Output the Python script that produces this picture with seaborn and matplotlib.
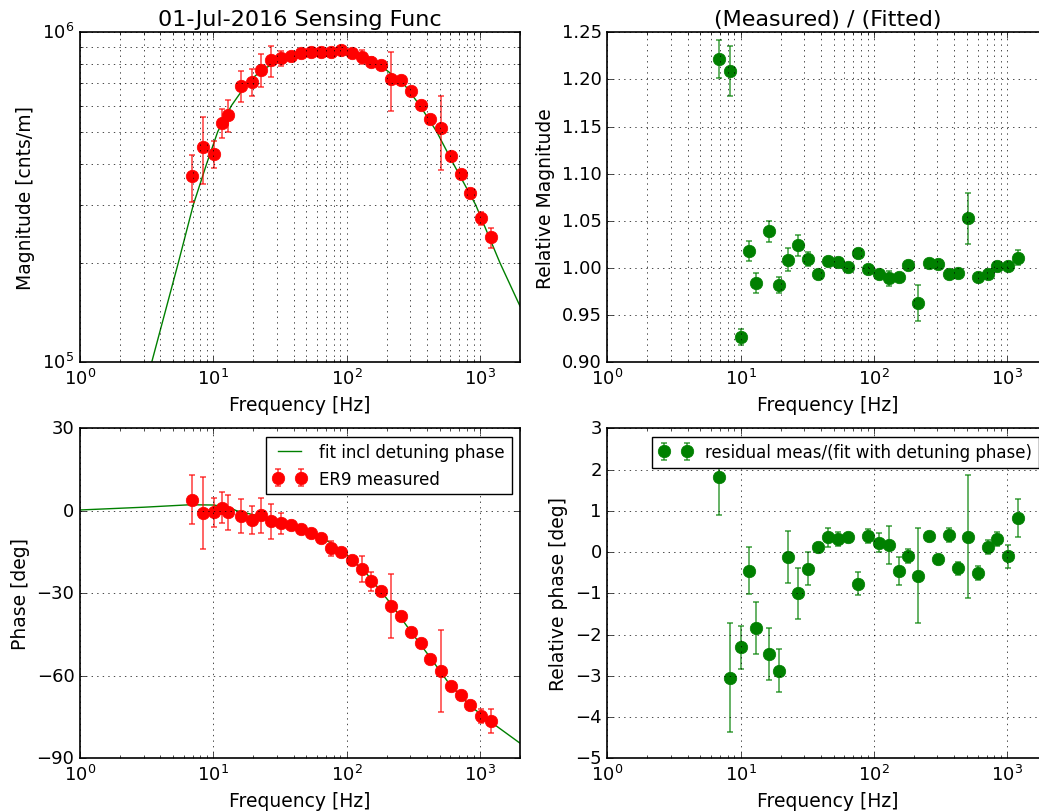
import matplotlib
matplotlib.use('Agg')
import matplotlib.pyplot as plt
from matplotlib.ticker import NullFormatter, MultipleLocator
import seaborn as sns

plt.style.use('classic')
plt.rcParams['axes.linewidth'] = 1.2
plt.rcParams['font.family'] = ['DejaVu Sans']
plt.rcParams['xtick.labelsize'] = 13
plt.rcParams['ytick.labelsize'] = 13
plt.rcParams['axes.labelsize'] = 13.5
plt.rcParams['axes.titlesize'] = 16

# measured points
freq = [6.9, 8.3, 10.05, 11.55, 12.97, 16.2, 19.5, 22.8, 27.0, 32.2, 38.0, 45.3, 53.8, 64.0,
        76.2, 90.6, 109, 129.5, 153, 181, 216, 257, 305, 363, 426, 507, 604, 718, 844, 1016, 1208]

mag = [366e3, 449e3, 429e3, 531e3, 561e3, 687e3, 707e3, 771e3, 822e3, 835e3, 847e3, 867e3,
       871e3, 871e3, 871e3, 883e3, 863e3, 843e3, 814e3, 796e3, 724e3, 716e3, 664e3, 601e3,
       545e3, 512e3, 422e3, 371e3, 325e3, 273e3, 239e3]
mag_err = [60e3, 103e3, 40e3, 54e3, 62e3, 74e3, 65e3, 88e3, 88e3, 44e3, 10e3, 8e3, 8e3, 8e3,
           8e3, 10e3, 10e3, 40e3, 30e3, 8e3, 146e3, 8e3, 8e3, 8e3, 8e3, 130e3, 6e3, 6e3, 6e3,
           12e3, 17e3]

phase = [4.1, -0.85, -0.6, 1.2, -0.6, -1.9, -3.3, -1.7, -3.8, -4.6, -5.2, -6.7, -8.1, -9.9,
         -13.6, -14.9, -17.9, -21.2, -25.7, -29.3, -34.6, -38.2, -43.9, -48.2, -53.9, -58.2,
         -63.6, -66.9, -70.6, -74.6, -76.4]
phase_err = [9.0, 13.2, 5.2, 5.8, 6.2, 6.3, 5.2, 6.3, 6.3, 3.9, 1.0, 0.8, 0.8, 0.8, 2.8, 0.8,
             1.3, 4.7, 3.3, 0.8, 11.5, 0.8, 0.8, 0.8, 0.8, 14.9, 0.8, 0.8, 0.8, 2.7, 4.5]

rel_mag = [1.222, 1.209, 0.927, 1.018, 0.984, 1.039, 0.982, 1.009, 1.024, 1.010, 0.994, 1.007,
           1.006, 1.001, 1.016, 0.999, 0.994, 0.989, 0.990, 1.003, 0.963, 1.005, 1.004, 0.994,
           0.995, 1.053, 0.990, 0.994, 1.002, 1.002, 1.011]
rel_mag_err = [0.020, 0.027, 0.0085, 0.0104, 0.011, 0.011, 0.009, 0.0117, 0.011, 0.0074, 0.004,
               0.004, 0.004, 0.003, 0.004, 0.003, 0.003, 0.008, 0.004, 0.003, 0.0195, 0.003,
               0.003, 0.003, 0.003, 0.027, 0.004, 0.004, 0.003, 0.003, 0.008]

rel_phase = [1.81, -3.05, -2.31, -0.45, -1.83, -2.47, -2.88, -0.11, -1.00, -0.40, 0.12, 0.36,
             0.32, 0.36, -0.77, 0.38, 0.22, 0.16, -0.45, -0.10, -0.57, 0.40, -0.16, 0.42,
             -0.39, 0.37, -0.51, 0.12, 0.32, -0.10, 0.83]
rel_phase_err = [0.91, 1.32, 0.52, 0.57, 0.63, 0.63, 0.52, 0.63, 0.62, 0.40, 0.05, 0.23, 0.17,
                 0.05, 0.28, 0.17, 0.23, 0.46, 0.34, 0.17, 1.15, 0.05, 0.05, 0.17, 0.16, 1.49,
                 0.17, 0.17, 0.17, 0.28, 0.46]

# fit curves
fit_mag_f = [3.45, 5.46, 7.08, 8.92, 10.8, 13.7, 17.9, 22, 27.4, 35, 47, 65, 89, 129, 150,
             175, 267, 355, 474, 632, 930, 1416, 2000]
fit_mag = [1e5, 2e5, 3e5, 4e5, 5e5, 6e5, 7e5, 7.55e5, 8e5, 8.35e5, 8.6e5, 8.68e5, 8.62e5,
           8.34e5, 8.2e5, 8e5, 7e5, 6e5, 5e5, 4e5, 3e5, 2e5, 1.48e5]

fit_ph_f = [1, 3, 6.69, 10.1, 13.3, 15.0, 27.4, 37.6, 53, 75, 100, 141, 211, 297, 419, 591,
            835, 1178, 2000]
fit_ph = [0.3, 1.3, 2.2, 2.1, 1.1, 0.0, -3.0, -5.0, -7.6, -11.5, -15.9, -22.8, -33.3, -43.3,
          -53.0, -63.0, -70.7, -76.4, -84.5]

W, H = 1039, 812
fig = plt.figure(figsize=(W / 100, H / 100), facecolor='w')


def make_ax(x0, y_top, y_bot):
    return fig.add_axes([x0 / W, (H - y_bot) / H, 440 / W, (y_bot - y_top) / H])


ax1 = make_ax(80, 33.3, 363.3)
ax2 = make_ax(607.3, 33.3, 363.3)
ax3 = make_ax(80, 429.3, 759.3)
ax4 = make_ax(607.3, 429.3, 759.3)

red_err = (1, 0, 0, 0.7)
green_err = (0, 0.5, 0, 0.7)
pt = dict(fmt='o', ms=9, capsize=2.5, elinewidth=1.2, capthick=1.2)

# magnitude
ax1.set_xscale('log')
ax1.set_yscale('log')
sns.lineplot(x=fit_mag_f, y=fit_mag, ax=ax1, color='g', linewidth=1)
ax1.errorbar(freq, mag, yerr=mag_err, color='r', mec='r', ecolor=red_err, **pt)
ax1.set_xlim(1, 2000)
ax1.set_ylim(1e5, 1e6)
ax1.yaxis.set_minor_formatter(NullFormatter())
ax1.grid(True, which='both')
ax1.set_title('01-Jul-2016 Sensing Func')
ax1.set_xlabel('Frequency [Hz]')
ax1.set_ylabel('Magnitude [cnts/m]')

# relative magnitude
ax2.set_xscale('log')
ax2.errorbar(freq, rel_mag, yerr=rel_mag_err, color='g', mec='g', ecolor=green_err, **pt)
ax2.set_xlim(1, 2000)
ax2.set_ylim(0.9, 1.25)
ax2.yaxis.set_major_locator(MultipleLocator(0.05))
ax2.grid(True, which='both')
ax2.set_title('(Measured) / (Fitted)')
ax2.set_xlabel('Frequency [Hz]')
ax2.set_ylabel('Relative Magnitude')

# phase
ax3.set_xscale('log')
sns.lineplot(x=fit_ph_f, y=fit_ph, ax=ax3, color='g', linewidth=1,
             label='fit incl detuning phase')
ax3.errorbar(freq, phase, yerr=phase_err, color='r', mec='r', ecolor=red_err,
             label='ER9 measured', **pt)
ax3.set_xlim(1, 2000)
ax3.set_ylim(-90, 30)
ax3.yaxis.set_major_locator(MultipleLocator(30))
ax3.grid(True, which='major')
ax3.set_xlabel('Frequency [Hz]')
ax3.set_ylabel('Phase [deg]')
ax3.legend(loc='upper right', fontsize=12, numpoints=2)

# relative phase
ax4.set_xscale('log')
ax4.errorbar(freq, rel_phase, yerr=rel_phase_err, color='g', mec='g', ecolor=green_err,
             label='residual meas/(fit with detuning phase)', **pt)
ax4.set_xlim(1, 2000)
ax4.set_ylim(-5, 3)
ax4.yaxis.set_major_locator(MultipleLocator(1))
ax4.grid(True, which='major')
ax4.set_xlabel('Frequency [Hz]')
ax4.set_ylabel('Relative phase [deg]')
ax4.legend(loc='upper right', fontsize=12, numpoints=2)

fig.savefig('out.png', dpi=100, facecolor='w')
